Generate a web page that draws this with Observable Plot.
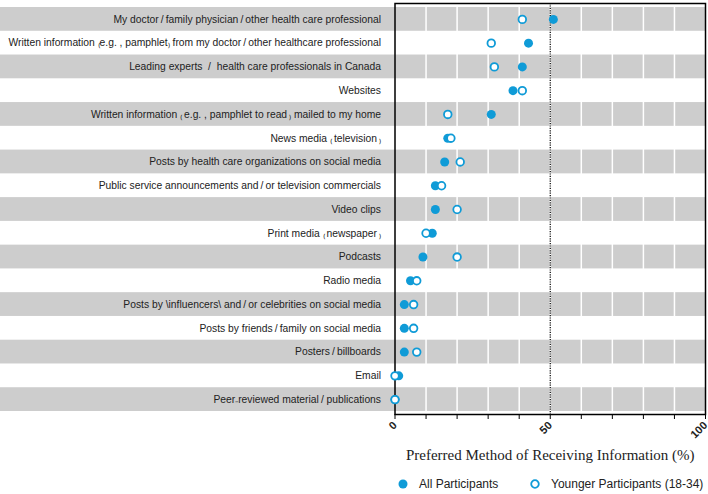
<!DOCTYPE html>
<html><head><meta charset="utf-8">
<script src="https://cdn.jsdelivr.net/npm/d3@7"></script>
<script src="https://cdn.jsdelivr.net/npm/@observablehq/plot@0.6"></script>
<style>
body{margin:0;background:#fff;font-family:"Liberation Sans",Arial,sans-serif}
#legend{position:relative;width:708px;height:24px}
#legend .item{position:absolute;top:2px;height:24px;display:flex;align-items:center;font-size:12px;color:#222}
#legend svg{margin-right:11px}
</style>
</head><body>
<div id="chart"></div>
<div id="legend"></div>
<script>
const categories = [
  "My doctor\u2009/\u2009family physician\u2009/\u2009other health care professional",
  "Written information \u208De.g. , pamphlet\u208E from my doctor\u2009/\u2009other healthcare professional",
  "Leading experts  /  health care professionals in Canada",
  "Websites",
  "Written information \u208D\u2009e.g. , pamphlet to read\u2009\u208E mailed to my home",
  "News media \u208D\u2009television\u2009\u208E",
  "Posts by health care organizations on social media",
  "Public service announcements and\u2009/\u2009or television commercials",
  "Video clips",
  "Print media \u208D\u2009newspaper\u2009\u208E",
  "Podcasts",
  "Radio media",
  "Posts by \\influencers\\ and\u2009/\u2009or celebrities on social media",
  "Posts by friends\u2009/\u2009family on social media",
  "Posters\u2009/\u2009billboards",
  "Email",
  "Peer\u208Breviewed material\u2009/ publications"
];
const allParticipants     = [51, 43, 41, 38, 31, 17, 16, 13, 13, 12, 9, 5, 3, 3, 3, 1.2, 0];
const youngerParticipants = [41, 31, 32, 41, 17, 18, 21, 15, 20, 10, 20, 7, 6, 6, 7, 0, 0];
const xTicks = [0, 10, 20, 30, 40, 50, 60, 70, 80, 90, 100];
const xTickLabels = [0, 50, 100];
const seriesNames = ["All Participants", "Younger Participants (18-34)"];

const rows = categories.map((c, i) => ({category: c, all: allParticipants[i], younger: youngerParticipants[i], shaded: i % 2 === 0}));
const blue = "#0f9bd7";

const chart = Plot.plot({
  width: 708, height: 470,
  marginLeft: 394.5, marginRight: 3, marginTop: 3, marginBottom: 56,
  x: {domain: [0, 100]},
  y: {type: "band", domain: categories, padding: 0, round: false, insetTop: 4, insetBottom: 3},
  style: {fontFamily: "'Liberation Sans', Arial, sans-serif", fontSize: "10.3px", color: "#222", background: "#fff"},
  marks: [
    Plot.barX(rows.filter(d => d.shaded), {x1: 0, x2: 100, y: "category", fill: "#cdcdcd", insetLeft: -394.5}),
    Plot.ruleX(xTicks.filter(t => t > 0 && t < 100), {stroke: "#fff", strokeWidth: 1.5}),
    Plot.ruleX([50], {stroke: "#000", strokeDasharray: "1.2,1.2", strokeWidth: 1.2}),
    Plot.frame({stroke: "#000", strokeWidth: 1.5}),
    Plot.axisY({tickSize: 0, tickPadding: 14, label: null, fontSize: 10.3}),
    Plot.axisX({ticks: xTicks, tickFormat: d => xTickLabels.includes(d) ? String(d) : "", tickRotate: -45, tickSize: 5, tickPadding: 4, fontWeight: "bold", fontSize: 11, label: null, stroke: "#000"}),
    Plot.axisX({ticks: [], label: "Preferred Method of Receiving Information (%)", labelAnchor: "center", labelArrow: "none", labelOffset: 45, fontFamily: "'Liberation Serif', 'Times New Roman', serif", fontSize: 15}),
    Plot.dot(rows, {x: "all", y: "category", r: 4.5, fill: blue}),
    Plot.dot(rows, {x: "younger", y: "category", r: 3.8, fill: "#fff", stroke: blue, strokeWidth: 1.8})
  ]
});
document.getElementById("chart").appendChild(chart);

const legend = document.getElementById("legend");
const items = [
  {name: seriesNames[0], left: 398, filled: true},
  {name: seriesNames[1], left: 530, filled: false}
];
for (const it of items) {
  const div = document.createElement("div");
  div.className = "item";
  div.style.left = it.left + "px";
  div.innerHTML = `<svg width="10" height="10" viewBox="0 0 10 10">${it.filled
    ? `<circle cx="5" cy="5" r="4.5" fill="${blue}"/>`
    : `<circle cx="5" cy="5" r="3.8" fill="#fff" stroke="${blue}" stroke-width="1.8"/>`}</svg><span>${it.name}</span>`;
  legend.appendChild(div);
}
</script>
</body></html>
